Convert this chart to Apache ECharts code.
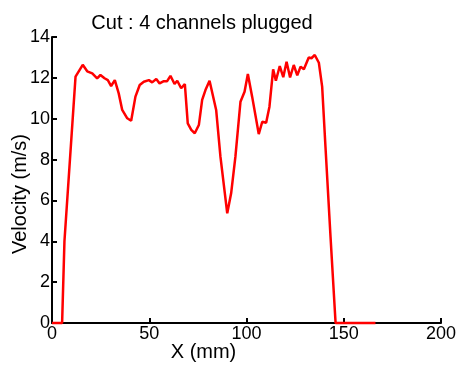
<!DOCTYPE html>
<html>
<head>
<meta charset="utf-8">
<script src="https://cdn.jsdelivr.net/npm/echarts@6/dist/echarts.min.js"></script>
<style>
  html, body { margin: 0; padding: 0; background: #fff; }
  #chart { width: 459px; height: 365px; }
</style>
</head>
<body>
<div id="chart"></div>
<script>
// position along the cut (mm)
const posMm = [0, 5.2, 6.4, 12.1, 15.8, 18.1, 20.7, 23.2, 24.9, 27, 28.7, 30.4, 32.3,
  34.3, 36.1, 38.7, 40.7, 42.9, 45.1, 47.2, 49.8, 51.5, 53.6, 55.3, 57.5, 59.2, 60.9, 63, 64.4,
  66.4, 68.3, 69.8, 71.6, 73.4, 75.5, 77.2, 78.9, 81, 84.4, 86.6, 90.1, 92.1, 94.3, 96.9, 99,
  100.7, 102.9, 106.3, 108.1, 110.1, 111.8, 113.7, 115.1, 117.1, 118.9, 120.6, 122.4, 124.3,
  126.1, 127.8, 129.5, 132, 133.4, 135.1, 137.2, 138.9, 140.6, 143.2, 145.8, 166.3];
// velocity (m/s)
const velocity = [0, 0, 4.0, 12.06, 12.64, 12.32, 12.22, 11.98, 12.14, 11.98, 11.89, 11.6, 11.89,
  11.24, 10.43, 10.02, 9.9, 11.08, 11.65, 11.81, 11.89, 11.78, 11.94, 11.73, 11.84, 11.84, 12.1, 11.7, 11.86,
  11.49, 11.7, 9.77, 9.45, 9.29, 9.69, 10.92, 11.4, 11.86, 10.43, 8.14, 5.37, 6.35, 8.14, 10.83, 11.32,
  12.19, 11.08, 9.25, 9.85, 9.8, 10.59, 12.42, 11.86, 12.58, 12.03, 12.79, 12.02, 12.63,
  12.12, 12.55, 12.42, 13.0, 12.96, 13.12, 12.74, 11.57, 8.63, 4.22, 0, 0];

const title = 'Cut : 4 channels plugged';
const xName = 'X (mm)';
const yName = 'Velocity (m/s)';

const chart = echarts.init(document.getElementById('chart'));
const font = 'Liberation Sans, Arial, sans-serif';

chart.setOption({
  animation: false,
  backgroundColor: '#fff',
  title: {
    text: title,
    left: 197,
    top: 8,
    textAlign: 'center',
    textStyle: { fontFamily: font, fontSize: 20, fontWeight: 'normal', color: '#000' }
  },
  grid: { left: 52, right: 18, top: 37, bottom: 42, outerBoundsMode: 'none', containLabel: false },
  xAxis: {
    type: 'value',
    min: 0, max: 200, interval: 50,
    name: xName,
    nameLocation: 'middle',
    nameGap: 19,
    nameMoveOverlap: false,
    // MATLAB puts the label off-centre, left of the axis middle
    nameTextStyle: { fontFamily: font, fontSize: 20, color: '#000', padding: [0, 86, 0, 0] },
    axisLine: { lineStyle: { color: '#000', width: 2 } },
    axisTick: { inside: true, length: 5, lineStyle: { color: '#000', width: 2 } },
    axisLabel: { fontFamily: font, fontSize: 18, color: '#000', margin: 2 },
    splitLine: { show: false }
  },
  yAxis: {
    type: 'value',
    min: 0, max: 14, interval: 2,
    name: yName,
    nameLocation: 'middle',
    nameGap: 22,
    nameMoveOverlap: false,
    nameTextStyle: { fontFamily: font, fontSize: 20, color: '#000', padding: [0, 28, 0, 0] },
    axisLine: { show: true, lineStyle: { color: '#000', width: 2 } },
    axisTick: { show: true, inside: true, length: 5, lineStyle: { color: '#000', width: 2 } },
    axisLabel: { fontFamily: font, fontSize: 18, color: '#000', margin: 2 },
    splitLine: { show: false }
  },
  series: [{
    type: 'line',
    data: posMm.map((x, i) => [x, velocity[i]]),
    symbol: 'none',
    lineStyle: { color: '#ff0000', width: 2.5 },
    clip: false
  }]
});
</script>
</body>
</html>
